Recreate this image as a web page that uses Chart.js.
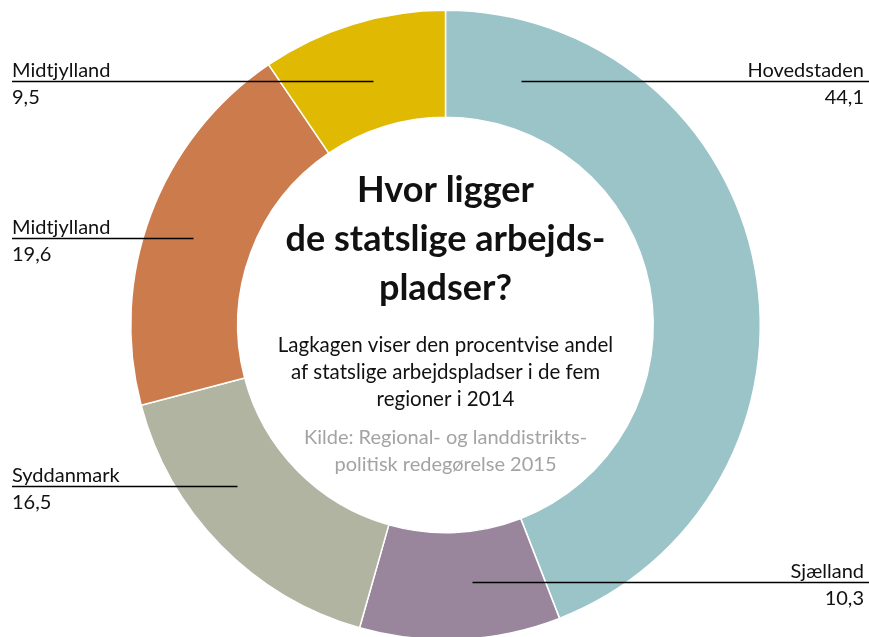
<!DOCTYPE html>
<html>
<head>
<meta charset="utf-8">
<script src="https://cdn.jsdelivr.net/npm/chart.js@4"></script>
<style>
  html, body { margin: 0; padding: 0; background: #fff; }
  #wrap { width: 869px; height: 637px; overflow: hidden; position: relative; }
</style>
</head>
<body>
<div id="wrap"><canvas id="ring" width="869" height="660"></canvas></div>
<script>
// regions, clockwise from 12 o'clock
const regions = ['Hovedstaden', 'Sjælland', 'Syddanmark', 'Midtjylland', 'Midtjylland'];
const shares = [44.1, 10.3, 16.5, 19.6, 9.5];
const valueLabels = ['44,1', '10,3', '16,5', '19,6', '9,5'];
const sliceColors = ['#9bc4c9', '#99869d', '#b0b4a1', '#cc7b4c', '#e0b902'];

const titleLines = ['Hvor ligger', 'de statslige arbejds-', 'pladser?'];
const introLines = ['Lagkagen viser den procentvise andel', 'af statslige arbejdspladser i de fem', 'regioner i 2014'];
const sourceLines = ['Kilde: Regional- og landdistrikts-', 'politisk redegørelse 2015'];

// leader line placement, offsets from the ring centre (dy = line height, dx = inner end)
const labelLayout = [
    { side: 'right', dy: -244, dx: 76 },
    { side: 'right', dy: 257, dx: 27 },
    { side: 'left', dy: 161, dx: -208 },
    { side: 'left', dy: -87, dx: -252 },
    { side: 'left', dy: -244, dx: -72 }
];

const FONT = 'Lato, "Open Sans", sans-serif';

// draws the leader lines with region names and the text in the hole
const ringLabels = {
    id: 'ringLabels',
    afterDraw(chart) {
        const ctx = chart.ctx;
        const arc = chart.getDatasetMeta(0).data[0];
        const cx = arc.x, cy = arc.y;
        const W = chart.width;

        ctx.save();
        labelLayout.forEach((l, i) => {
            const y = Math.round(cy + l.dy) + 0.5;
            const xIn = cx + l.dx;
            const xOut = l.side === 'right' ? W : 12;
            ctx.strokeStyle = '#000';
            ctx.lineWidth = 1.5;
            ctx.beginPath();
            ctx.moveTo(xIn, y);
            ctx.lineTo(xOut, y);
            ctx.stroke();

            ctx.fillStyle = '#111';
            ctx.font = '20px ' + FONT;
            ctx.textAlign = l.side === 'right' ? 'right' : 'left';
            const tx = l.side === 'right' ? W - 5 : 12;
            ctx.textBaseline = 'alphabetic';
            ctx.fillText(regions[i], tx, y - 5);
            ctx.textBaseline = 'top';
            ctx.fillText(valueLabels[i], tx, y + 6);
        });

        // centre text
        ctx.textAlign = 'center';
        ctx.textBaseline = 'middle';
        ctx.fillStyle = '#111';
        ctx.font = 'bold 36px ' + FONT;
        titleLines.forEach((t, i) => ctx.fillText(t, cx, cy - 135 + i * 49));
        ctx.font = '20.5px ' + FONT;
        introLines.forEach((t, i) => ctx.fillText(t, cx, cy + 20 + i * 27));
        ctx.fillStyle = '#a3a3a3';
        ctx.font = '20px ' + FONT;
        sourceLines.forEach((t, i) => ctx.fillText(t, cx, cy + 113 + i * 27));
        ctx.restore();
    }
};

const ctx = document.getElementById('ring').getContext('2d');
new Chart(ctx, {
    type: 'doughnut',
    data: {
        labels: regions,
        datasets: [{
            data: shares,
            backgroundColor: sliceColors,
            borderColor: '#ffffff',
            borderWidth: 1.5
        }]
    },
    options: {
        responsive: false,
        animation: false,
        cutout: '66%',
        layout: { padding: { left: 130, right: 108, top: 9.5, bottom: 19.5 } },
        plugins: {
            legend: { display: false },
            tooltip: { enabled: false }
        }
    },
    plugins: [ringLabels]
});
</script>
</body>
</html>
